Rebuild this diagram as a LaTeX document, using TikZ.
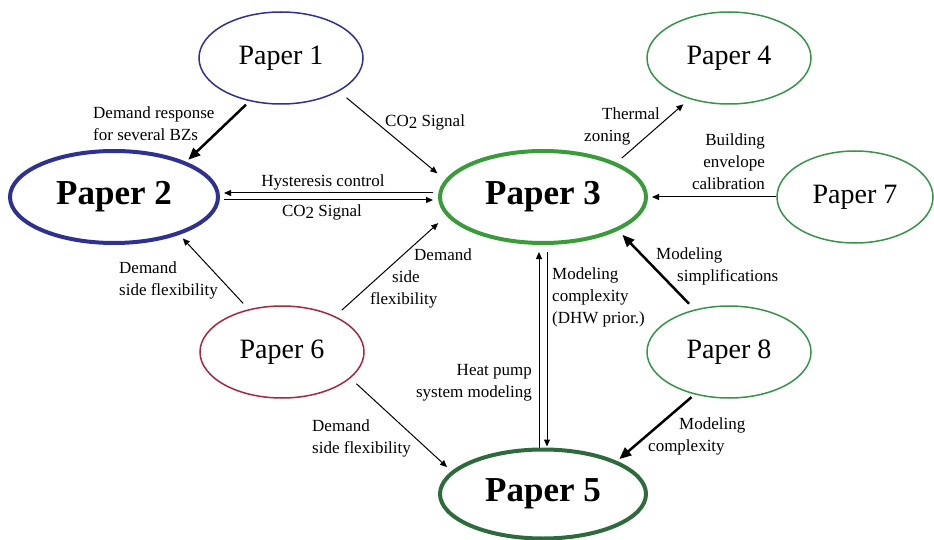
\documentclass[tikz,border=0pt]{standalone}
\usepackage{fontspec}
\setmainfont{Liberation Serif}
\usepackage{xcolor}
\usepackage{tikz}
\usetikzlibrary{arrows.meta,shapes.geometric}
\definecolor{bluec}{HTML}{2E3192}
\definecolor{greenb}{HTML}{3A9B3A}
\definecolor{greend}{HTML}{2D6B3D}
\definecolor{greenc}{HTML}{37934A}
\definecolor{redc}{HTML}{A6283E}
\newcommand{\cotwo}{CO\raisebox{-2.5pt}{2}}
\tikzset{
  pap/.style={ellipse,draw,line width=1.5pt,inner sep=0pt,minimum width=164pt,minimum height=92pt,font=\fontsize{28}{32}\selectfont},
  papb/.style={pap,line width=4pt,minimum width=206pt,font=\fontsize{35}{40}\selectfont\bfseries},
  ar/.style={-{Triangle[length=7pt,width=6pt]},line width=1pt},
  arb/.style={-{Triangle[length=12pt,width=10pt]},line width=2.5pt},
  lbl/.style={inner sep=0pt,font=\fontsize{17}{22}\selectfont}
}
\begin{document}
\begin{tikzpicture}[x=1pt,y=-1pt]
\useasboundingbox (0,0) rectangle (934,540);
% papers
\node[pap,draw=bluec] (p1) at (281,58) {Paper 1};
\node[papb,draw=bluec,minimum width=208pt] (p2) at (114,197) {Paper 2};
\node[papb,draw=greenb] (p3) at (543,197) {Paper 3};
\node[pap,draw=greenc] (p4) at (729,58) {Paper 4};
\node[papb,draw=greend,minimum height=89pt] (p5) at (543,494) {Paper 5};
\node[pap,draw=redc] (p6) at (282,352) {Paper 6};
\node[pap,draw=greenc,minimum width=156pt] (p7) at (855,197) {Paper 7};
\node[pap,draw=greenc] (p8) at (729,352) {Paper 8};
% links
\draw[arb,shorten <=5pt,shorten >=3pt] (p1.234) -- (p2.26);
\draw[ar,shorten <=10pt,shorten >=10pt] (p1.330) -- (p3.170);
\draw[ar,shorten <=5pt,shorten >=4pt] ([yshift=4pt]p3.west) -- ([yshift=4pt]p2.east);
\draw[ar,shorten <=4pt,shorten >=5pt] ([yshift=-3pt]p2.east) -- ([yshift=-3pt]p3.west);
\draw[ar,shorten <=8pt,shorten >=5pt] (p6.128) -- (p2.330);
\draw[ar,shorten <=9pt,shorten >=11pt] (p6.34) -- (p3.191);
\draw[ar,shorten <=8pt,shorten >=6pt] (p6.339) -- (p5.166);
\draw[ar,shorten <=7pt,shorten >=8pt] (p3.25) -- (p4.226);
\draw[ar,shorten >=4pt] (p7.west) -- (p3.east);
\draw[arb,shorten <=8pt,shorten >=6pt] (p8.129) -- (p3.336);
\draw[arb,shorten <=4pt,shorten >=3pt] (p8.231) -- (p5.24);
\draw[ar,shorten >=7pt] ([xshift=-4pt]p5.north) -- ([xshift=-4pt]p3.south);
\draw[ar,shorten <=7pt,shorten >=1pt] ([xshift=4pt]p3.south) -- ([xshift=4pt]p5.north);
% labels
\node[lbl,align=left,anchor=west] (l1) at (93,124) {Demand response\\for several BZs};
\node[lbl,anchor=west] (l2) at (385,122) {\cotwo{} Signal};
\node[lbl] (l3) at (323,182) {Hysteresis control};
\node[lbl] (l4) at (322,212) {\cotwo{} Signal};
\node[lbl,align=left,anchor=west] (l5) at (119,280) {Demand\\side flexibility};
\node[lbl,align=left,anchor=west] (l6) at (370,278) {\hspace*{44pt}Demand\\\hspace*{22pt}side\\flexibility};
\node[lbl,align=left,anchor=west] (l7) at (312,438) {Demand\\side flexibility};
\node[lbl,align=left,anchor=west] (l8) at (584,126) {\hspace*{18pt}Thermal\\zoning};
\node[lbl,align=right,anchor=east] (l9) at (765,162) {Building\\envelope\\calibration};
\node[lbl,align=left,anchor=west] (l10) at (656,266) {Modeling\\\hspace*{21pt}simplifications};
\node[lbl,align=left,anchor=west] (l11) at (648,436) {\hspace*{31pt}Modeling\\complexity};
\node[lbl,align=right,anchor=east] (l12) at (532,383) {Heat pump\\system modeling};
\node[lbl,align=left,anchor=west] (l13) at (552,297) {Modeling\\complexity\\(DHW prior.)};
\end{tikzpicture}
\end{document}
